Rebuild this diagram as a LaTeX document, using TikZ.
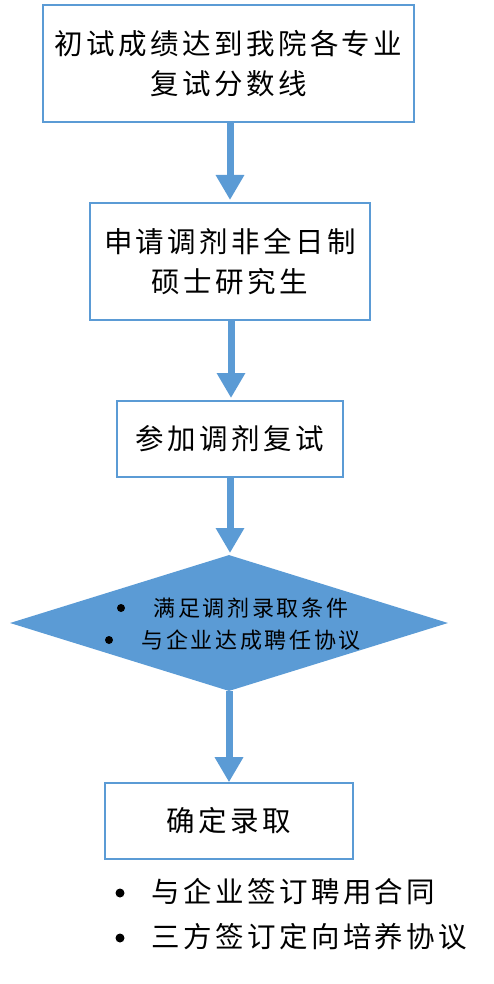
\documentclass[tikz,border=0pt]{standalone}
\usepackage{fontspec}
\newfontfamily\cjk[LetterSpace=12]{Noto Sans CJK SC}
\usetikzlibrary{shapes.geometric,arrows.meta}
\definecolor{bblue}{HTML}{5B9BD5}
\tikzset{
  box/.style={draw=bblue,line width=1.6pt,fill=white,inner sep=0pt,align=center,font=\cjk\fontsize{28.5}{40}\selectfont},
  flow/.style={draw=bblue,line width=7pt,-{Triangle[width=27pt,length=25pt]}},
}
\begin{document}
\begin{tikzpicture}[x=1pt,y=-1pt]
\useasboundingbox (0,0) rectangle (494,984);
\node[box,minimum width=371pt,minimum height=117pt] (b1) at (228.5,63.5) {初试成绩达到我院各专业\\复试分数线};
\node[box,minimum width=280pt,minimum height=117pt] (b2) at (230,261.5) {申请调剂非全日制\\硕士研究生};
\node[box,minimum width=226pt,minimum height=76pt] (b3) at (230,439) {参加调剂复试};
\node[diamond,fill=bblue,inner sep=0pt,minimum width=438pt,minimum height=136pt,aspect=3.2] (d) at (229,623) {};
\node[font=\cjk\fontsize{22}{32}\selectfont,anchor=west] (d1) at (150,608) {满足调剂录取条件};
\node[font=\cjk\fontsize{22}{32}\selectfont,anchor=west] (d2) at (138,640) {与企业达成聘任协议};
\fill (121,608) circle (4pt);
\fill (109,640) circle (4pt);
\node[box,minimum width=248pt,minimum height=76pt] (b4) at (229,821) {确定录取};
\node[font=\cjk\fontsize{28.5}{40}\selectfont,anchor=west] (t1) at (148,892) {与企业签订聘用合同};
\node[font=\cjk\fontsize{28.5}{40}\selectfont,anchor=west] (t2) at (148,937) {三方签订定向培养协议};
\fill (120,893) circle (4.5pt);
\fill (120,938) circle (4.5pt);
\draw[flow] (b1.south -| 230,0) -- (230,200);
\draw[flow] (b2.south -| 231,0) -- (231,398);
\draw[flow] (b3.south -| 230,0) -- (230,553);
\draw[flow] (d.south) -- (b4.north);
\end{tikzpicture}
\end{document}
